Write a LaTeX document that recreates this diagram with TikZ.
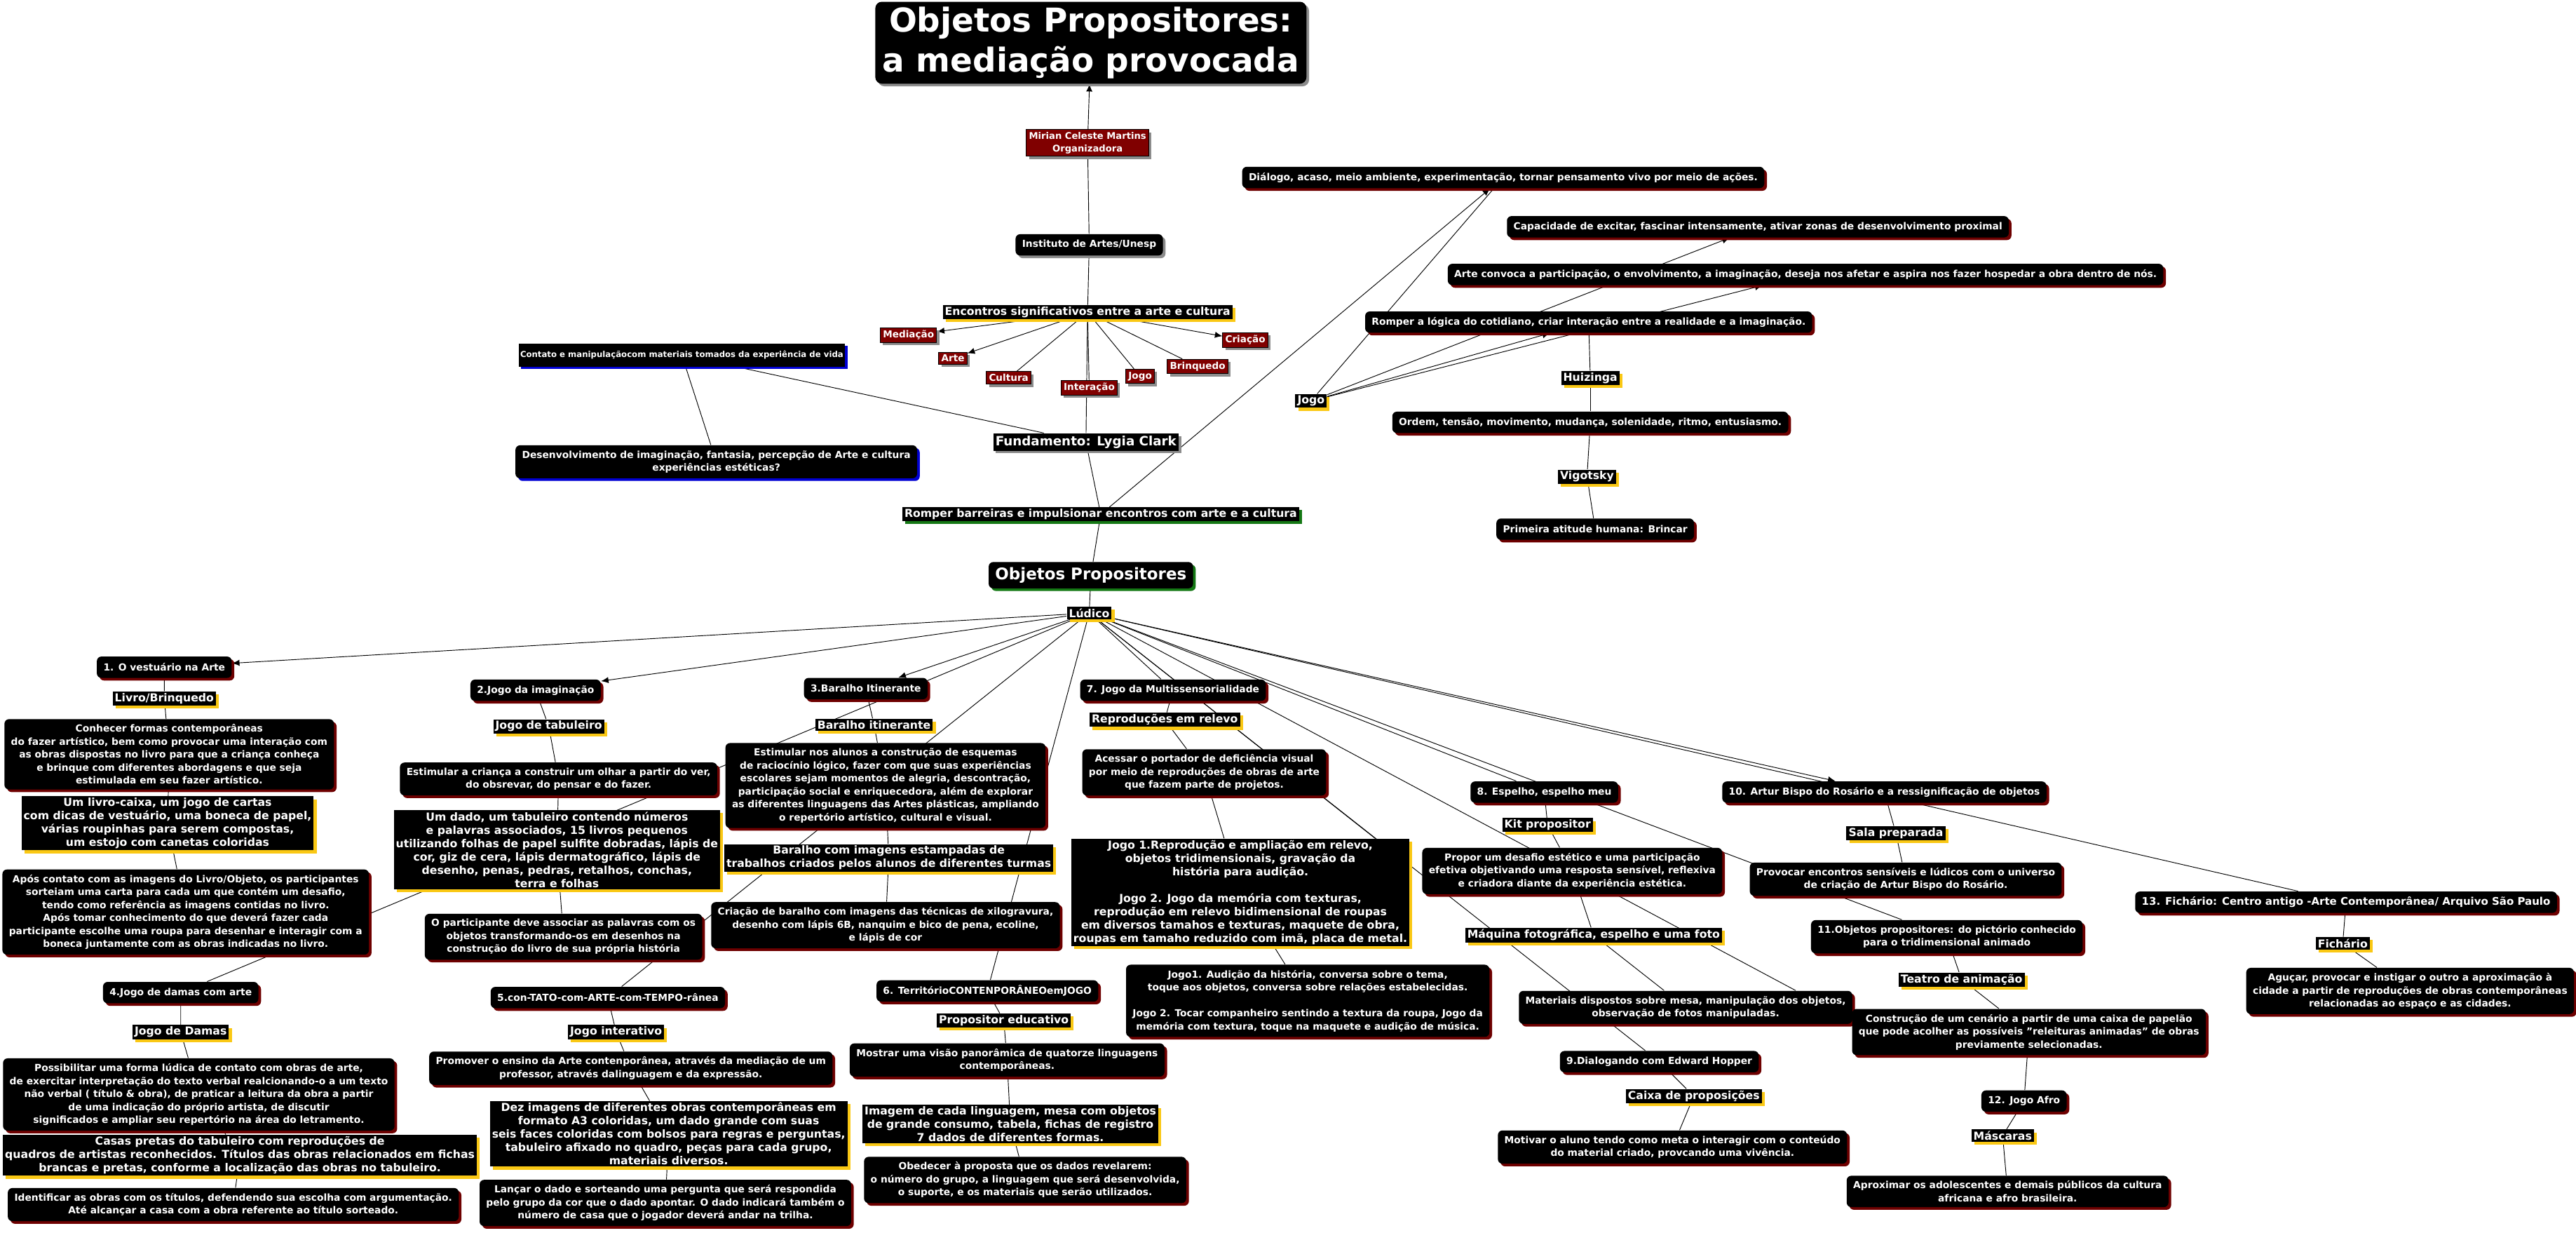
\documentclass[tikz,border=0pt]{standalone}
\usepackage{fontspec}
\setmainfont{DejaVu Sans}
\usetikzlibrary{shadows,arrows.meta,backgrounds}
\definecolor{shred}{RGB}{110,0,0}
\definecolor{shyel}{RGB}{250,200,20}
\definecolor{boxred}{RGB}{128,0,0}
\definecolor{shgray}{RGB}{140,140,140}
\definecolor{shblue}{RGB}{0,0,210}
\definecolor{shgreen}{RGB}{20,120,20}
\newcommand\myfs[2]{\fontsize{#1pt}{#2pt}\selectfont}
\begin{document}
\begin{tikzpicture}[x=1pt,y=-1pt,line width=0.45pt,
  sh/.style={drop shadow={shadow xshift=1.6pt,shadow yshift=-1.6pt,fill=#1,opacity=1}},
  cbase/.style={fill=black,text=white,align=center,rounded corners=2.8pt,inner xsep=4pt,inner ysep=3.2pt,minimum height=13pt,font=\bfseries\myfs{5.9}{7.9}},
  cpt/.style={cbase,sh=shred},
  lbase/.style={fill=black,text=white,align=center,inner xsep=1.3pt,inner ysep=1pt,font=\bfseries\myfs{6.7}{8.1}},
  lbl/.style={lbase,drop shadow={shadow xshift=1.8pt,shadow yshift=-1.8pt,fill=shyel,opacity=1}},
  redb/.style={fill=boxred,draw=black,line width=0.4pt,text=white,align=center,inner xsep=1.6pt,inner ysep=1.6pt,font=\bfseries\myfs{5.8}{7.6},sh=shgray},
  arr/.style={-{Latex[length=4.5pt,width=3.8pt]}}
]
\useasboundingbox (0,0) rectangle (1568,750);

% ---------- top ----------
\node[cbase,sh=shgray,font=\bfseries\myfs{20}{24.5},inner xsep=4.5pt,inner ysep=3pt,rounded corners=4pt] (title) at (664,26) {Objetos Propositores:\\a mediação provocada};
\node[redb,font=\bfseries\myfs{5.6}{7.6}] (mirian) at (662,87) {Mirian Celeste Martins\\Organizadora};
\node[cbase,sh=shgray] (inst) at (663,149) {Instituto de Artes/Unesp};
\node[lbl] (enc) at (662,190) {Encontros significativos entre a arte e cultura};
\node[redb] (med) at (553,204) {Mediação};
\node[redb] (arteR) at (580,218) {Arte};
\node[redb] (cult) at (614,230) {Cultura};
\node[redb] (inter) at (663,236) {Interação};
\node[redb] (jogoR) at (694,229) {Jogo};
\node[redb] (brinq) at (729,223) {Brinquedo};
\node[redb] (cria) at (758,207) {Criação};
\node[lbase,sh=shblue,font=\bfseries\myfs{5}{7},inner ysep=4.5pt,inner xsep=1pt] (contato) at (415,216) {Contato e manipulaçãocom materiais tomados da experiência de vida};
\node[cbase,sh=shblue] (desenv) at (436,281) {Desenvolvimento de imaginação, fantasia, percepção de Arte e cultura\\experiências estéticas?};
\node[lbase,sh=shgray,font=\bfseries\myfs{7.8}{9},inner ysep=1.5pt] (fund) at (661,269) {Fundamento: Lygia Clark};
\node[lbase,sh=shgreen] (rompbar) at (670,313) {Romper barreiras e impulsionar encontros com arte e a cultura};
\node[cbase,sh=shgreen,font=\bfseries\myfs{9.8}{11},minimum height=16pt,inner ysep=2pt] (objp) at (664,350) {Objetos Propositores};
\node[lbl] (lud) at (663,373) {Lúdico};

% ---------- upper right ----------
\node[cpt] (dial) at (915,108) {Diálogo, acaso, meio ambiente, experimentação, tornar pensamento vivo por meio de ações.};
\node[cpt] (capac) at (1070,138) {Capacidade de excitar, fascinar intensamente, ativar zonas de desenvolvimento proximal};
\node[cpt] (artec) at (1099,167) {Arte convoca a participação, o envolvimento, a imaginação, deseja nos afetar e aspira nos fazer hospedar a obra dentro de nós.};
\node[cpt] (rlog) at (967,196) {Romper a lógica do cotidiano, criar interação entre a realidade e a imaginação.};
\node[lbl] (jogoL) at (798,244) {Jogo};
\node[lbl] (huiz) at (968,230) {Huizinga};
\node[cpt] (ordem) at (968,257) {Ordem, tensão, movimento, mudança, solenidade, ritmo, entusiasmo.};
\node[lbl] (vigo) at (966,290) {Vigotsky};
\node[cpt] (prim) at (971,322) {Primeira atitude humana: Brincar};

% ---------- 1 ----------
\node[cpt] (n1) at (100,406) {1. O vestuário na Arte};
\node[lbl] (livro) at (100,425) {Livro/Brinquedo};
\node[cpt] (conhecer) at (103,459) {Conhecer formas contemporâneas\\do fazer artístico, bem como provocar uma interação com\\as obras dispostas no livro para que a criança conheça\\e brinque com diferentes abordagens e que seja\\estimulada em seu fazer artístico.};
\node[lbl] (livcaixa) at (102,501) {Um livro-caixa, um jogo de cartas\\com dicas de vestuário, uma boneca de papel,\\várias roupinhas para serem compostas,\\um estojo com canetas coloridas};
\node[cpt] (apos) at (113,555) {Após contato com as imagens do Livro/Objeto, os participantes\\sorteiam uma carta para cada um que contém um desafio,\\tendo como referência as imagens contidas no livro.\\Após tomar conhecimento do que deverá fazer cada\\participante escolhe uma roupa para desenhar e interagir com a\\boneca juntamente com as obras indicadas no livro.};
% ---------- 4 ----------
\node[cpt] (n4) at (110,604) {4.Jogo de damas com arte};
\node[lbl] (damas) at (110,628) {Jogo de Damas};
\node[cpt] (possib) at (121,666) {Possibilitar uma forma lúdica de contato com obras de arte,\\de exercitar interpretação do texto verbal realcionando-o a um texto\\não verbal ( título \& obra), de praticar a leitura da obra a partir\\de uma indicação do próprio artista, de discutir\\significados e ampliar seu repertório na área do letramento.};
\node[lbl] (casas) at (146,703) {Casas pretas do tabuleiro com reproduções de\\quadros de artistas reconhecidos. Títulos das obras relacionados em fichas\\brancas e pretas, conforme a localização das obras no tabuleiro.};
\node[cpt] (ident) at (142,733) {Identificar as obras com os títulos, defendendo sua escolha com argumentação.\\Até alcançar a casa com a obra referente ao título sorteado.};
% ---------- 2 ----------
\node[cpt] (n2) at (326,420) {2.Jogo da imaginação};
\node[lbl] (tabul) at (334,442) {Jogo de tabuleiro};
\node[cpt] (estcri) at (340,474) {Estimular a criança a construir um olhar a partir do ver,\\do obsrevar, do pensar e do fazer.};
\node[lbl] (dado) at (339,517) {Um dado, um tabuleiro contendo números\\e palavras associados, 15 livros pequenos\\utilizando folhas de papel sulfite dobradas, lápis de\\cor, giz de cera, lápis dermatográfico, lápis de\\desenho, penas, pedras, retalhos, conchas,\\terra e folhas};
\node[cpt] (partic) at (343,570) {O participante deve associar as palavras com os\\objetos transformando-os em desenhos na\\construção do livro de sua própria história};
% ---------- 5 ----------
\node[cpt] (n5) at (370,607) {5.con-TATO-com-ARTE-com-TEMPO-rânea};
\node[lbl] (jint) at (375,628) {Jogo interativo};
\node[cpt] (promov) at (384,650) {Promover o ensino da Arte contenporânea, através da mediação de um\\professor, através dalinguagem e da expressão.};
\node[lbl] (dez) at (407,690) {Dez imagens de diferentes obras contemporâneas em\\formato A3 coloridas, um dado grande com suas\\seis faces coloridas com bolsos para regras e perguntas,\\tabuleiro afixado no quadro, peças para cada grupo,\\materiais diversos.};
\node[cpt] (lancar) at (405,732) {Lançar o dado e sorteando uma pergunta que será respondida\\pelo grupo da cor que o dado apontar. O dado indicará também o\\número de casa que o jogador deverá andar na trilha.};
% ---------- 3 ----------
\node[cpt] (n3) at (527,419) {3.Baralho Itinerante};
\node[lbl] (barit) at (532,441) {Baralho itinerante};
\node[cpt] (estalu) at (539,478) {Estimular nos alunos a construção de esquemas\\de raciocínio lógico, fazer com que suas experiências\\escolares sejam momentos de alegria, descontração,\\participação social e enriquecedora, além de explorar\\as diferentes linguagens das Artes plásticas, ampliando\\o repertório artístico, cultural e visual.};
\node[lbl] (baralho) at (541,522) {Baralho com imagens estampadas de\\trabalhos criados pelos alunos de diferentes turmas};
\node[cpt] (criab) at (539,563) {Criação de baralho com imagens das técnicas de xilogravura,\\desenho com lápis 6B, nanquim e bico de pena, ecoline,\\e lápis de cor};
% ---------- 6 ----------
\node[cpt] (n6) at (601,603) {6. TerritórioCONTENPORÂNEOemJOGO};
\node[lbl] (propedu) at (611,621) {Propositor educativo};
\node[cpt] (mostrar) at (613,645) {Mostrar uma visão panorâmica de quatorze linguagens\\contemporâneas.};
\node[lbl] (imagem) at (615,684) {Imagem de cada linguagem, mesa com objetos\\de grande consumo, tabela, fichas de registro\\7 dados de diferentes formas.};
\node[cpt] (obedecer) at (624,718) {Obedecer à proposta que os dados revelarem:\\o número do grupo, a linguagem que será desenvolvida,\\o suporte, e os materiais que serão utilizados.};
% ---------- 7 ----------
\node[cpt] (n7) at (714,420) {7. Jogo da Multissensorialidade};
\node[lbl] (reprod) at (709,438) {Reproduções em relevo};
\node[cpt] (acessar) at (733,470) {Acessar o portador de deficiência visual\\por meio de reproduções de obras de arte\\que fazem parte de projetos.};
\node[lbl] (jogo1) at (755,543) {Jogo 1.Reprodução e ampliação em relevo,\\objetos tridimensionais, gravação da\\história para audição.\\[8.1pt]Jogo 2. Jogo da memória com texturas,\\reprodução em relevo bidimensional de roupas\\em diversos tamahos e texturas, maquete de obra,\\roupas em tamaho reduzido com imã, placa de metal.};
\node[cpt] (audicao) at (796,609) {Jogo1. Audição da história, conversa sobre o tema,\\toque aos objetos, conversa sobre relações estabelecidas.\\[7.9pt]Jogo 2. Tocar companheiro sentindo a textura da roupa, Jogo da\\memória com textura, toque na maquete e audição de música.};
% ---------- 8 / 9 ----------
\node[cpt] (n8) at (940,482) {8. Espelho, espelho meu};
\node[lbl] (kit) at (942,502) {Kit propositor};
\node[cpt] (propor) at (957,530) {Propor um desafio estético e uma participação\\efetiva objetivando uma resposta sensível, reflexiva\\e criadora diante da experiência estética.};
\node[lbl] (maquina) at (970,569) {Máquina fotográfica, espelho e uma foto};
\node[cpt] (materiais) at (1026,613) {Materiais dispostos sobre mesa, manipulação dos objetos,\\observação de fotos manipuladas.};
\node[cpt] (n9) at (1010,646) {9.Dialogando com Edward Hopper};
\node[lbl] (caixa) at (1031,667) {Caixa de proposições};
\node[cpt] (motivar) at (1018,698) {Motivar o aluno tendo como meta o interagir com o conteúdo\\do material criado, provcando uma vivência.};
% ---------- 10 - 13 ----------
\node[cpt] (n10) at (1147,482) {10. Artur Bispo do Rosário e a ressignificação de objetos};
\node[lbl] (sala) at (1154,507) {Sala preparada};
\node[cpt] (provocar) at (1160,535) {Provocar encontros sensíveis e lúdicos com o universo\\de criação de Artur Bispo do Rosário.};
\node[cpt] (n11) at (1185,570) {11.Objetos propositores: do pictório conhecido\\para o tridimensional animado};
\node[lbl] (teatro) at (1194,596) {Teatro de animação};
\node[cpt] (construcao) at (1235,628) {Construção de um cenário a partir de uma caixa de papelão\\que pode acolher as possíveis "releituras animadas" de obras\\previamente selecionadas.};
\node[cpt] (n12) at (1232,670) {12. Jogo Afro};
\node[lbl] (mascaras) at (1219,691) {Máscaras};
\node[cpt] (aproximar) at (1222,725) {Aproximar os adolescentes e demais públicos da cultura\\africana e afro brasileira.};
\node[cpt,font=\bfseries\myfs{6.4}{8}] (n13) at (1428,549) {13. Fichário: Centro antigo -Arte Contemporânea/ Arquivo São Paulo};
\node[lbl] (fichario) at (1426,574) {Fichário};
\node[cpt] (agucar) at (1467,603) {Aguçar, provocar e instigar o outro a aproximação à\\cidade a partir de reproduções de obras contemporâneas\\relacionadas ao espaço e as cidades.};

% ---------- connectors ----------
\begin{scope}[on background layer]
\fill[white] (0,0) rectangle (1568,750);
\draw (inst) -- (mirian);
\draw[arr] (mirian) -- (title);
\draw (inst) -- (enc);
\draw[arr] (enc) -- (med);
\draw[arr] (enc) -- (arteR);
\draw (enc) -- (cult);
\draw (enc) -- (inter);
\draw (enc) -- (jogoR);
\draw (enc) -- (brinq);
\draw[arr] (enc) -- (cria);
\draw (enc) -- (fund);
\draw (contato) -- (desenv);
\draw (contato) -- (fund);
\draw (fund) -- (rompbar);
\draw[arr] (rompbar) -- (dial);
\draw (rompbar) -- (objp);
\draw (objp) -- (lud);
\draw[arr] (jogoL) -- (rlog);
\draw[arr] (jogoL) -- (artec);
\draw[arr] (jogoL) -- (capac);
\draw (jogoL) -- (dial);
\draw (rlog) -- (huiz);
\draw (huiz) -- (ordem);
\draw (ordem) -- (vigo);
\draw (vigo) -- (prim);
% from Ludico
\draw[arr] (lud) -- (n1);
\draw[arr] (lud) -- (n2);
\draw[arr] (lud) -- (n3);
\draw (lud) -- (n4);
\draw (lud) -- (n5);
\draw (lud) -- (n6);
\draw (lud) -- (n7);
\draw (lud) -- ([xshift=82pt]jogo1.north);
\draw (lud) -- (n8);
\draw (lud) -- (n11);
\draw (lud) -- ([xshift=67pt]materiais.north);
\draw (lud) -- (n9);
\draw[arr] (lud) -- (n10);
\draw (lud) -- (n13);
% chains
\draw (n1) -- (livro) -- (conhecer) -- (livcaixa) -- (apos);
\draw (n4) -- (damas) -- (possib) -- (casas) -- (ident);
\draw (n2) -- (tabul) -- (estcri) -- (dado) -- (partic);
\draw (n5) -- (jint) -- (promov) -- (dez) -- (lancar);
\draw (n3) -- (barit) -- (estalu) -- (baralho) -- (criab);
\draw (n6) -- (propedu) -- (mostrar) -- (imagem) -- (obedecer);
\draw (n7) -- (reprod) -- (acessar) -- (jogo1) -- (audicao);
\draw (n8) -- (kit) -- (propor) -- (maquina) -- (materiais);
\draw (n9) -- (caixa) -- (motivar);
\draw (n10) -- (sala) -- (provocar);
\draw (n11) -- (teatro) -- (construcao) -- (n12) -- (mascaras) -- (aproximar);
\draw (n13) -- (fichario) -- (agucar);
\end{scope}
\end{tikzpicture}
\end{document}
